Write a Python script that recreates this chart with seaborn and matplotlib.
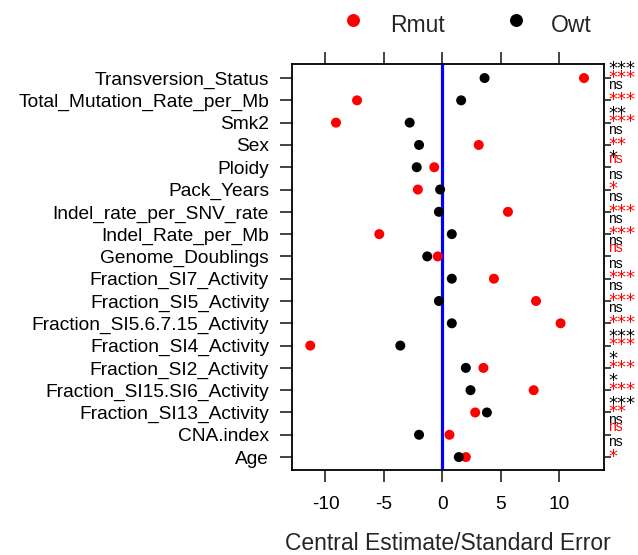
import matplotlib
matplotlib.use("Agg")
import matplotlib.pyplot as plt
from matplotlib.lines import Line2D
from matplotlib.transforms import blended_transform_factory
import pandas as pd
import seaborn as sns

# ---- data (top to bottom) ----
variables = ["Transversion_Status", "Total_Mutation_Rate_per_Mb", "Smk2", "Sex",
             "Ploidy", "Pack_Years", "Indel_rate_per_SNV_rate", "Indel_Rate_per_Mb",
             "Genome_Doublings", "Fraction_SI7_Activity", "Fraction_SI5_Activity",
             "Fraction_SI5.6.7.15_Activity", "Fraction_SI4_Activity",
             "Fraction_SI2_Activity", "Fraction_SI15.SI6_Activity",
             "Fraction_SI13_Activity", "CNA.index", "Age"]
rmut = [12.1, -7.3, -9.1, 3.1, -0.7, -2.1, 5.6, -5.4, -0.4, 4.4, 8.0, 10.1,
        -11.3, 3.5, 7.8, 2.8, 0.6, 2.0]
owt = [3.6, 1.6, -2.8, -2.0, -2.2, -0.2, -0.3, 0.8, -1.3, 0.8, -0.3, 0.8,
       -3.6, 2.0, 2.4, 3.8, -2.0, 1.4]
sig_owt = ["***", "ns", "**", "ns", "*", "ns", "ns", "ns", "ns", "ns", "ns", "ns",
           "***", "*", "*", "***", "ns", "ns"]
sig_rmut = ["***", "***", "***", "**", "ns", "*", "***", "***", "ns", "***", "***", "***",
            "***", "***", "***", "**", "ns", "*"]
groups = ["Rmut", "Owt"]
colors = {"Rmut": "#FF0000", "Owt": "#000000"}
x_ticks = [-10, -5, 0, 5, 10]
x_label = "Central Estimate/Standard Error"

df = pd.DataFrame({
    "variable": variables * 2,
    "value": rmut + owt,
    "group": ["Rmut"] * len(variables) + ["Owt"] * len(variables),
})

sns.set_style("ticks")
plt.rcParams["font.family"] = ["Liberation Sans", "DejaVu Sans"]

fig = plt.figure(figsize=(6.38, 5.55), dpi=100)
ax = fig.add_axes([292 / 638, 1 - 470 / 555, 312 / 638, 406 / 555])

ax.axvline(0, color="#0000FF", lw=2.3, zorder=1)
sns.stripplot(data=df, x="value", y="variable", hue="group", order=variables,
              hue_order=["Owt", "Rmut"], palette=colors, jitter=False, dodge=False,
              size=7.2, linewidth=0, orient="h", ax=ax, legend=False, zorder=3)

ax.set_xlim(-12.86, 13.81)
ax.set_ylim(17.58, -0.63)
ax.set_xticks(x_ticks)
ax.set_xticklabels([str(t) for t in x_ticks])
ax.set_xlabel("")
ax.set_ylabel("")

for s in ax.spines.values():
    s.set_visible(True)
    s.set_linewidth(1.3)
    s.set_color("black")

ax.tick_params(axis="both", direction="out", length=8.5, width=1.2, color="#222222",
               labelsize=13.8, labelcolor="black")
ax.tick_params(axis="x", top=True, pad=10)
ax.tick_params(axis="y", left=True, right=False, pad=8)

# right side short ticks
ax2 = ax.twinx()
ax2.set_ylim(ax.get_ylim())
ax2.set_yticks(range(len(variables)))
ax2.set_yticklabels([])
ax2.tick_params(axis="y", direction="out", length=5, width=1.2, color="#222222")
for s in ax2.spines.values():
    s.set_visible(False)

# significance labels
tr = blended_transform_factory(ax.transAxes, ax.transData)
for i in range(len(variables)):
    for lab, base_ns, base_star, col in [(sig_owt[i], -0.49, -0.17, "#000000"),
                                         (sig_rmut[i], -0.18, 0.21, "#FF0000")]:
        if lab == "ns":
            ax.text(1.013, i + base_ns, lab, transform=tr, color=col, fontsize=10,
                    va="baseline", ha="left", clip_on=False)
        else:
            ax.text(1.013, i + base_star, lab, transform=tr, color=col, fontsize=13,
                    va="baseline", ha="left", clip_on=False, family="DejaVu Sans")

# x label
fig.text(448 / 638, 1 - 550 / 555, x_label, ha="center", va="baseline", fontsize=16.5)

# legend (manual)
for xd, xt, g in [(353, 390, "Rmut"), (516, 551, "Owt")]:
    fig.add_artist(Line2D([xd / 638], [1 - 20 / 555], marker="o", markersize=8.3,
                          color=colors[g], linestyle="none", transform=fig.transFigure))
    fig.text(xt / 638, 1 - 32 / 555, g, ha="left", va="baseline", fontsize=16.5)

fig.savefig("out.png", dpi=100)
